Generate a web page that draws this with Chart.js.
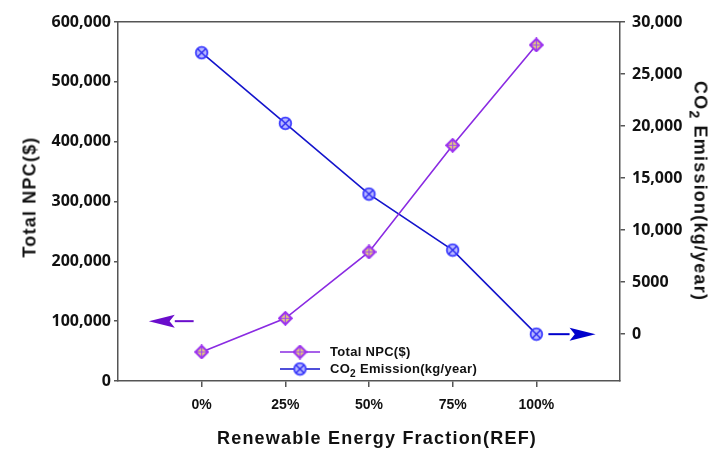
<!DOCTYPE html>
<html>
<head>
<meta charset="utf-8">
<script src="https://cdn.jsdelivr.net/npm/chart.js@4.4.0/dist/chart.umd.min.js"></script>
<style>
  html, body { margin: 0; padding: 0; background: #fff; }
  #wrap { position: relative; width: 713px; height: 452px; }
  #ch { position: absolute; left: 0; top: 0; }
  .ttl { position: absolute; font: bold 18px "Liberation Sans", Arial, sans-serif; letter-spacing: 1.2px;
         color: #111; white-space: nowrap; transform: translate(-50%, -50%); }
  .ttl.v { transform: translate(-50%, -50%) rotate(-90deg); }
  .ttl.v2 { transform: translate(-50%, -50%) rotate(90deg); }
  .legend { position: absolute; left: 280px; top: 343px; font: bold 13px "Liberation Sans", Arial, sans-serif;
            color: #111; letter-spacing: 0.3px; }
  .legend .row { height: 17px; display: flex; align-items: center; white-space: pre; }
  .legend canvas { margin-right: 10px; }
  sub { font-size: 78%; vertical-align: -0.35em; line-height: 0; }
</style>
</head>
<body>
<div id="wrap">
  <canvas id="ch" width="713" height="452"></canvas>
  <div class="ttl v" style="left:30px;top:197px">Total NPC($)</div>
  <div class="ttl v2" style="left:700px;top:191px">CO<sub>2</sub> Emission(kg/year)</div>
  <div class="ttl" style="left:377px;top:438px">Renewable Energy Fraction(REF)</div>
  <div class="legend">
    <div class="row"><canvas id="lg1" width="40" height="16"></canvas><span>Total NPC($)</span></div>
    <div class="row"><canvas id="lg2" width="40" height="16"></canvas><span>CO<sub>2</sub> Emission(kg/year)</span></div>
  </div>
</div>
<script>
// values
var X_VALUES = [0, 25, 50, 75, 100];
var X_LABELS = ["0%", "25%", "50%", "75%", "100%"];
var NPC = [48500, 104800, 215700, 394000, 561600];      // left axis, $
var CO2 = [27050, 20260, 13460, 8080, 0];               // right axis, kg/year
var Y_TICKS = [0, 100000, 200000, 300000, 400000, 500000, 600000];
var Y2_TICKS = [0, 5000, 10000, 15000, 20000, 25000, 30000];
var Y2_LABELS = ["0", "5000", "10,000", "15,000", "20,000", "25,000", "30,000"];

var PURPLE = "#8a2be2", BLUE = "#1414cc", AXIS = "#555", INK = "#111";

function diamond() {
  var c = document.createElement("canvas"); c.width = 15; c.height = 15;
  var g = c.getContext("2d"), m = 7.5, r = 6.3;
  g.beginPath(); g.moveTo(m, m - r); g.lineTo(m + r, m); g.lineTo(m, m + r); g.lineTo(m - r, m); g.closePath();
  g.fillStyle = "#e2cf7a"; g.fill();
  g.strokeStyle = "#a347f0"; g.lineWidth = 1.2;
  g.beginPath(); g.moveTo(m, m - r); g.lineTo(m, m + r); g.moveTo(m - r, m); g.lineTo(m + r, m); g.stroke();
  g.beginPath(); g.moveTo(m, m - r); g.lineTo(m + r, m); g.lineTo(m, m + r); g.lineTo(m - r, m); g.closePath();
  g.strokeStyle = "#9b30f0"; g.lineWidth = 2; g.stroke();
  return c;
}
function xcircle() {
  var c = document.createElement("canvas"); c.width = 15; c.height = 15;
  var g = c.getContext("2d"), m = 7.5, r = 5.8, d = r * 0.7;
  g.beginPath(); g.arc(m, m, r, 0, Math.PI * 2);
  g.fillStyle = "#b9b9ff"; g.fill();
  g.strokeStyle = "#3d3dff"; g.lineWidth = 1.8; g.stroke();
  g.beginPath(); g.moveTo(m - d, m - d); g.lineTo(m + d, m + d); g.moveTo(m + d, m - d); g.lineTo(m - d, m + d);
  g.strokeStyle = "#2a2af0"; g.lineWidth = 1.4; g.stroke();
  return c;
}
var MK_NPC = diamond(), MK_CO2 = xcircle();

function legendSwatch(id, col, mk) {
  var g = document.getElementById(id).getContext("2d");
  g.strokeStyle = col; g.lineWidth = 1.6;
  g.beginPath(); g.moveTo(0, 8); g.lineTo(40, 8); g.stroke();
  g.drawImage(mk, 20 - mk.width / 2, 8 - mk.height / 2);
}
legendSwatch("lg1", PURPLE, MK_NPC);
legendSwatch("lg2", BLUE, MK_CO2);

// the two direction arrows, in data units of the axis they point to
var arrowPlugin = {
  id: "arrows",
  afterDatasetsDraw: function (chart) {
    var ctx = chart.ctx, x = chart.scales.x;
    function arrow(y, from, to, col) {
      var x0 = x.getPixelForValue(from), x1 = x.getPixelForValue(to);
      var dir = x1 > x0 ? 1 : -1, head = 26, hw = 6.5;
      ctx.save();
      ctx.strokeStyle = col; ctx.fillStyle = col; ctx.lineWidth = 2;
      ctx.beginPath(); ctx.moveTo(x0, y); ctx.lineTo(x1 - dir * head, y); ctx.stroke();
      ctx.beginPath(); ctx.moveTo(x1, y); ctx.lineTo(x1 - dir * head, y - hw);
      ctx.lineTo(x1 - dir * head * 0.8, y); ctx.lineTo(x1 - dir * head, y + hw); ctx.closePath(); ctx.fill();
      ctx.restore();
    }
    arrow(chart.scales.y.getPixelForValue(100000), -2.4, -15.8, "#6a0dcc");
    arrow(chart.scales.y2.getPixelForValue(0), 103.6, 117.7, "#0000cc");
  }
};

function pts(vals) { return vals.map(function (v, i) { return { x: X_VALUES[i], y: v }; }); }
var tickFont = { family: "'Open Sans', sans-serif", size: 16, weight: "bold" };

new Chart(document.getElementById("ch"), {
  type: "line",
  data: {
    datasets: [
      { label: "Total NPC($)", data: pts(NPC), yAxisID: "y", borderColor: PURPLE, borderWidth: 1.6,
        pointStyle: MK_NPC, pointRadius: 7, tension: 0 },
      { label: "CO2 Emission(kg/year)", data: pts(CO2), yAxisID: "y2", borderColor: BLUE, borderWidth: 1.6,
        pointStyle: MK_CO2, pointRadius: 7, tension: 0 }
    ]
  },
  options: {
    responsive: false, animation: false,
    layout: { padding: 0 },
    plugins: { legend: { display: false }, tooltip: { enabled: false } },
    scales: {
      x: {
        type: "linear", position: "bottom", min: -25, max: 125,
        afterBuildTicks: function (s) { s.ticks = X_VALUES.map(function (v) { return { value: v }; }); },
        afterFit: function (s) { s.height = 71; },
        ticks: { callback: function (v, i) { return X_LABELS[i]; }, color: INK, padding: 10, maxRotation: 0,
                 font: { family: "'Liberation Sans', Arial, sans-serif", size: 14, weight: "bold" } },
        grid: { drawOnChartArea: false, tickLength: 6, color: AXIS, lineWidth: 1.5 },
        border: { color: AXIS, width: 1.5 }
      },
      xTop: {
        type: "linear", position: "top", min: -25, max: 125,
        afterFit: function (s) { s.height = 22; },
        ticks: { display: false }, grid: { display: false },
        border: { display: true, color: AXIS, width: 1.5 }
      },
      y: {
        position: "left", min: 0, max: 600000,
        afterBuildTicks: function (s) { s.ticks = Y_TICKS.map(function (v) { return { value: v }; }); },
        afterFit: function (s) { s.width = 118; },
        ticks: { callback: function (v) { return v.toLocaleString("en-US"); }, color: INK, padding: 3, font: tickFont },
        grid: { drawOnChartArea: false, tickLength: 4, color: AXIS, lineWidth: 1.5 },
        border: { color: AXIS, width: 1.5 }
      },
      y2: {
        position: "right", min: -4500, max: 30000,
        afterBuildTicks: function (s) { s.ticks = Y2_TICKS.map(function (v) { return { value: v }; }); },
        afterFit: function (s) { s.width = 93; },
        ticks: { callback: function (v, i) { return Y2_LABELS[i]; }, color: INK, padding: 7, font: tickFont },
        grid: { drawOnChartArea: false, tickLength: 5, color: AXIS, lineWidth: 1.5 },
        border: { color: AXIS, width: 1.5 }
      }
    }
  },
  plugins: [arrowPlugin]
});
</script>
</body>
</html>
